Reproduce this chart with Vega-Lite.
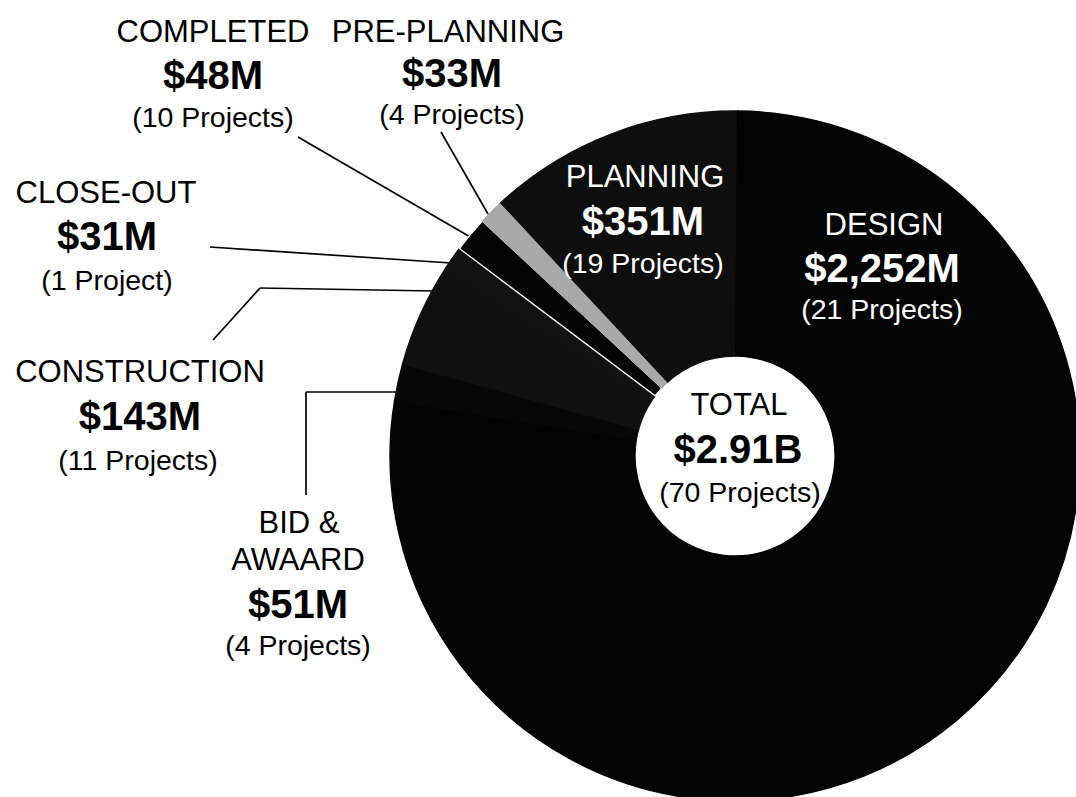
{
  "$schema": "https://vega.github.io/schema/vega-lite/v6.json",
  "width": 682,
  "height": 682,
  "autosize": {"type": "none"},
  "padding": {"left": 394, "top": 115, "right": 0, "bottom": 0},
  "background": "white",
  "config": {"view": {"stroke": null}},
  "datasets": {
    "stages": [
      {"stage": "PLANNING", "value": 351, "projects": 19, "ord": 1},
      {"stage": "DESIGN", "value": 2252, "projects": 21, "ord": 2},
      {"stage": "BID & AWARD", "value": 51, "projects": 4, "ord": 3},
      {"stage": "CONSTRUCTION", "value": 143, "projects": 11, "ord": 4},
      {"stage": "CLOSE-OUT", "value": 31, "projects": 1, "ord": 5},
      {"stage": "COMPLETED", "value": 48, "projects": 10, "ord": 6},
      {"stage": "PRE-PLANNING", "value": 33, "projects": 4, "ord": 7}
    ],
    "leaders": [
      {"stage": "COMPLETED", "x": 298, "y": 137, "x2": 472, "y2": 238},
      {"stage": "PRE-PLANNING", "x": 441, "y": 132, "x2": 488, "y2": 214},
      {"stage": "CLOSE-OUT", "x": 210, "y": 247, "x2": 451, "y2": 263},
      {"stage": "CONSTRUCTION", "x": 213, "y": 340, "x2": 260, "y2": 288},
      {"stage": "CONSTRUCTION", "x": 260, "y": 288, "x2": 434, "y2": 291},
      {"stage": "BID & AWARD", "x": 306, "y": 495, "x2": 306, "y2": 392},
      {"stage": "BID & AWARD", "x": 306, "y": 392, "x2": 397, "y2": 392}
    ],
    "labels": [
      {"text": "COMPLETED", "kind": "cat", "zone": "out", "x": 213, "y": 42},
      {"text": "$48M", "kind": "val", "zone": "out", "x": 213, "y": 89},
      {"text": "(10 Projects)", "kind": "cnt", "zone": "out", "x": 213, "y": 127},
      {"text": "PRE-PLANNING", "kind": "cat", "zone": "out", "x": 448, "y": 42},
      {"text": "$33M", "kind": "val", "zone": "out", "x": 452, "y": 87},
      {"text": "(4 Projects)", "kind": "cnt", "zone": "out", "x": 452, "y": 124},
      {"text": "CLOSE-OUT", "kind": "cat", "zone": "out", "x": 106, "y": 203},
      {"text": "$31M", "kind": "val", "zone": "out", "x": 107, "y": 250},
      {"text": "(1 Project)", "kind": "cnt", "zone": "out", "x": 107, "y": 290},
      {"text": "CONSTRUCTION", "kind": "cat", "zone": "out", "x": 140, "y": 382},
      {"text": "$143M", "kind": "val", "zone": "out", "x": 140, "y": 430},
      {"text": "(11 Projects)", "kind": "cnt", "zone": "out", "x": 138, "y": 470},
      {"text": "BID &", "kind": "cat", "zone": "out", "x": 299, "y": 533},
      {"text": "AWAARD", "kind": "cat", "zone": "out", "x": 298, "y": 570},
      {"text": "$51M", "kind": "val", "zone": "out", "x": 298, "y": 618},
      {"text": "(4 Projects)", "kind": "cnt", "zone": "out", "x": 298, "y": 655},
      {"text": "PLANNING", "kind": "cat", "zone": "in", "x": 645, "y": 187},
      {"text": "$351M", "kind": "val", "zone": "in", "x": 643, "y": 235},
      {"text": "(19 Projects)", "kind": "cnt", "zone": "in", "x": 643, "y": 273},
      {"text": "DESIGN", "kind": "cat", "zone": "in", "x": 884, "y": 235},
      {"text": "$2,252M", "kind": "val", "zone": "in", "x": 882, "y": 282},
      {"text": "(21 Projects)", "kind": "cnt", "zone": "in", "x": 882, "y": 319},
      {"text": "TOTAL", "kind": "cat", "zone": "center", "x": 739, "y": 415},
      {"text": "$2.91B", "kind": "val", "zone": "center", "x": 738, "y": 463},
      {"text": "(70 Projects)", "kind": "cnt", "zone": "center", "x": 740, "y": 502}
    ]
  },
  "layer": [
    {
      "data": {"name": "leaders"},
      "mark": {"type": "rule", "stroke": "#000000", "strokeWidth": 1.7},
      "encoding": {
        "x": {"field": "x", "type": "quantitative", "scale": {"domain": [394, 1076], "nice": false, "zero": false}, "axis": null},
        "y": {"field": "y", "type": "quantitative", "scale": {"domain": [115, 797], "nice": false, "zero": false, "reverse": true}, "axis": null},
        "x2": {"field": "x2"},
        "y2": {"field": "y2"}
      }
    },
    {
      "data": {"name": "stages"},
      "mark": {"type": "arc", "outerRadius": 345, "innerRadius": 100, "strokeWidth": 1.3},
      "encoding": {
        "theta": {"field": "value", "type": "quantitative", "stack": true, "scale": {"range": [-0.7505, 5.5327]}},
        "order": {"field": "ord", "type": "quantitative"},
        "color": {
          "field": "stage", "type": "nominal", "legend": null,
          "scale": {
            "domain": ["PLANNING", "DESIGN", "BID & AWARD", "CONSTRUCTION", "CLOSE-OUT", "COMPLETED", "PRE-PLANNING"],
            "range": ["#0e0e0e", "#030303", "#070707", "#101010", "#111111", "#040404", "#a9a9a9"]
          }
        },
        "stroke": {
          "field": "stage", "type": "nominal", "legend": null,
          "scale": {
            "domain": ["PLANNING", "DESIGN", "BID & AWARD", "CONSTRUCTION", "CLOSE-OUT", "COMPLETED", "PRE-PLANNING"],
            "range": ["#0e0e0e", "#030303", "#070707", "#101010", "#111111", "#ffffff", "#a9a9a9"]
          }
        }
      }
    },
    {
      "data": {"name": "labels"},
      "transform": [{"filter": "datum.kind === 'cat'"}],
      "mark": {"type": "text", "font": "Liberation Sans", "fontSize": 31, "align": "center", "baseline": "alphabetic"},
      "encoding": {
        "x": {"field": "x", "type": "quantitative", "scale": {"domain": [394, 1076], "nice": false, "zero": false}, "axis": null},
        "y": {"field": "y", "type": "quantitative", "scale": {"domain": [115, 797], "nice": false, "zero": false, "reverse": true}, "axis": null},
        "text": {"field": "text", "type": "nominal"},
        "fill": {"field": "zone", "type": "nominal", "legend": null, "scale": {"domain": ["out", "in", "center"], "range": ["#000000", "#ffffff", "#000000"]}}
      }
    },
    {
      "data": {"name": "labels"},
      "transform": [{"filter": "datum.kind === 'val'"}],
      "mark": {"type": "text", "font": "Liberation Sans", "fontSize": 40, "fontWeight": "bold", "align": "center", "baseline": "alphabetic"},
      "encoding": {
        "x": {"field": "x", "type": "quantitative", "scale": {"domain": [394, 1076], "nice": false, "zero": false}, "axis": null},
        "y": {"field": "y", "type": "quantitative", "scale": {"domain": [115, 797], "nice": false, "zero": false, "reverse": true}, "axis": null},
        "text": {"field": "text", "type": "nominal"},
        "fill": {"field": "zone", "type": "nominal", "legend": null, "scale": {"domain": ["out", "in", "center"], "range": ["#000000", "#ffffff", "#000000"]}}
      }
    },
    {
      "data": {"name": "labels"},
      "transform": [{"filter": "datum.kind === 'cnt'"}],
      "mark": {"type": "text", "font": "Liberation Sans", "fontSize": 28.5, "align": "center", "baseline": "alphabetic"},
      "encoding": {
        "x": {"field": "x", "type": "quantitative", "scale": {"domain": [394, 1076], "nice": false, "zero": false}, "axis": null},
        "y": {"field": "y", "type": "quantitative", "scale": {"domain": [115, 797], "nice": false, "zero": false, "reverse": true}, "axis": null},
        "text": {"field": "text", "type": "nominal"},
        "fill": {"field": "zone", "type": "nominal", "legend": null, "scale": {"domain": ["out", "in", "center"], "range": ["#000000", "#ffffff", "#000000"]}}
      }
    }
  ]
}
